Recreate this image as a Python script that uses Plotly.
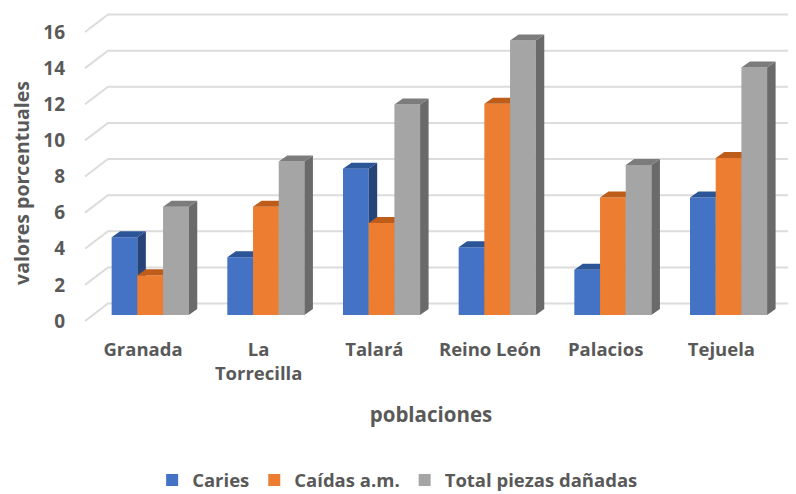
import plotly.graph_objects as go

poblaciones = ["Granada", "La<br>Torrecilla", "Talará", "Reino León", "Palacios", "Tejuela"]
caries = [4.3, 3.2, 8.1, 3.75, 2.5, 6.5]
caidas = [2.2, 6.0, 5.1, 11.7, 6.5, 8.7]
total = [6.0, 8.5, 11.65, 15.2, 8.3, 13.7]
y_ticks = [0, 2, 4, 6, 8, 10, 12, 14, 16]
series_names = ["Caries", "Caídas a.m.", "Total piezas dañadas"]

# The page body has an 8px margin, so figure px = page px - 8
M = 8
W, H = 796 - M, 494 - M
L, T, B = 66 - M, 0, 358 - M
STEP = 115.67      # px per category
UNIT = 18.06       # px per value unit
front_x0, front_y0 = 143.0 - M, 321.0 - M   # labelled front plane
bar_x0, bar_y0 = 150.2 - M, 315.0 - M       # bars plane
BAR_W = 25.7 / STEP
DX = 8.5 / STEP
DY = 6.0 / UNIT
TEXT = "#595959"
FONT = "Open Sans"

fills = ["#4472C4", "#ED7D31", "#A5A5A5"]
tops = ["#2B5597", "#BE5D1A", "#7C7C7C"]
sides = ["#264478", "#A84F14", "#6A6A6A"]
offsets = [-1.5, -0.5, 0.5]

fig = go.Figure()

wx, wy = [], []
left_front = (85 - M - front_x0) / STEP
left_back = (108 - M - front_x0) / STEP
right_back = (W - front_x0) / STEP
back_dy = 17.5 / UNIT
for v in y_ticks:
    wx += [left_front, left_back, right_back, None]
    wy += [v, v + back_dy, v + back_dy, None]
fig.add_trace(go.Scatter(x=wx, y=wy, mode="lines", line=dict(color="#DCDCDC", width=2),
                         showlegend=False, hoverinfo="skip", xaxis="x", yaxis="y"))

z = 1
xs = list(range(len(poblaciones)))
for name, vals, fill, top, side, off in zip(series_names, [caries, caidas, total], fills, tops, sides, offsets):
    fig.add_trace(go.Bar(x=xs, y=vals, name=name, width=BAR_W, offset=off * BAR_W,
                         marker=dict(color=fill, line=dict(width=0)), xaxis="x2", yaxis="y2",
                         zorder=z, hoverinfo="skip"))
    z += 1
    sx, sy, tx, ty = [], [], [], []
    for i, v in zip(xs, vals):
        x1 = i + off * BAR_W
        x2 = x1 + BAR_W
        sx += [x2, x2 + DX, x2 + DX, x2, x2, None]
        sy += [0, DY, v + DY, v, 0, None]
        tx += [x1, x1 + DX, x2 + DX, x2, x1, None]
        ty += [v, v + DY, v + DY, v, v, None]
    fig.add_trace(go.Scatter(x=sx, y=sy, mode="lines", fill="toself", fillcolor=side, line=dict(width=0, color=side),
                             showlegend=False, hoverinfo="skip", xaxis="x2", yaxis="y2", zorder=z))
    z += 1
    fig.add_trace(go.Scatter(x=tx, y=ty, mode="lines", fill="toself", fillcolor=top, line=dict(width=0, color=top),
                             showlegend=False, hoverinfo="skip", xaxis="x2", yaxis="y2", zorder=z))
    z += 1

fig.update_layout(
    width=W, height=H, autosize=False,
    margin=dict(l=L, r=0, t=T, b=H - B, autoexpand=False),
    paper_bgcolor="white", plot_bgcolor="white",
    font=dict(family=FONT, color=TEXT),
    barmode="overlay",
    xaxis=dict(range=[(L - front_x0) / STEP, (W - front_x0) / STEP], tickmode="array", tickvals=xs,
               ticktext=poblaciones, showgrid=False, zeroline=False, showline=False, ticks="",
               ticklabelstandoff=-22,
               tickfont=dict(size=18.5, family=FONT, color=TEXT, weight="bold"),
               title=dict(text="poblaciones", standoff=24, font=dict(size=20.5, family=FONT, color=TEXT, weight="bold"))),
    yaxis=dict(range=[(front_y0 - B) / UNIT, (front_y0 - T) / UNIT], tickmode="array", tickvals=y_ticks,
               showgrid=False, zeroline=False, showline=False, ticks="",
               tickfont=dict(size=19, family=FONT, color=TEXT, weight="bold"),
               title=dict(text="valores porcentuales", standoff=11, font=dict(size=19.5, family=FONT, color=TEXT, weight="bold"))),
    xaxis2=dict(range=[(L - bar_x0) / STEP, (W - bar_x0) / STEP], overlaying="x", visible=False),
    yaxis2=dict(range=[(bar_y0 - B) / UNIT, (bar_y0 - T) / UNIT], overlaying="y", visible=False),
    legend=dict(orientation="h", x=0.118, xanchor="left", y=-0.35, yanchor="middle",
                font=dict(size=18.5, family=FONT, color=TEXT, weight="bold"),
                bgcolor="rgba(0,0,0,0)"),
)

fig.write_html("out.html")
